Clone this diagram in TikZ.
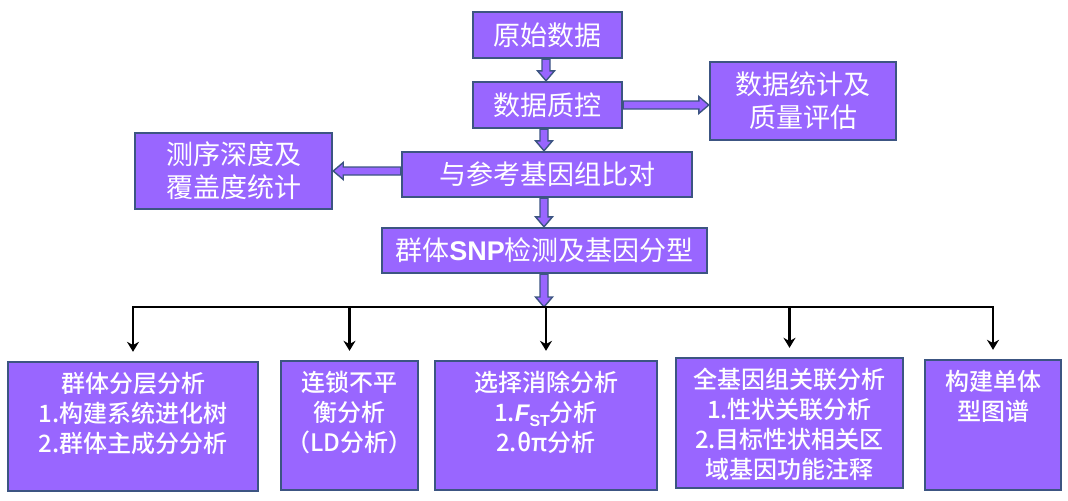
\documentclass[tikz,border=0pt]{standalone}
\usepackage{fontspec}
\setmainfont{Noto Sans CJK SC}
\newfontfamily\cjkmed{Noto Sans CJK SC Medium}
\newfontfamily\arialf{Liberation Sans}
\usetikzlibrary{calc,positioning,arrows.meta}
\definecolor{boxfill}{RGB}{153,102,255}
\definecolor{boxline}{RGB}{60,85,130}
% hollow block arrow from #1 to #2
\newcommand{\blockarr}[2]{%
  \path (#1) coordinate (p) (#2) coordinate (q);
  \coordinate (h) at ($(q)!5pt!(p)$);
  \filldraw[fill=boxfill, draw=boxline, line width=0.7pt]
    ($(p)!2pt!90:(q)$) -- ($(h)!2pt!90:(q)$) -- ($(h)!4.25pt!90:(q)$)
    -- (q) -- ($(h)!4.25pt!-90:(q)$) -- ($(h)!2pt!-90:(q)$)
    -- ($(p)!2pt!-90:(q)$) -- cycle;
}

\begin{document}
\begin{tikzpicture}[x=0.5pt, y=-0.5pt,
    box/.style={draw=boxline, fill=boxfill, line width=1.2pt, text=white,
      align=center, inner sep=0pt},
    topbox/.style={box, font=\fontsize{13.5}{16.5}\selectfont},
    subtxt/.style={text=white, align=center, inner sep=0pt,
      font=\fontsize{12}{15}\selectfont\cjkmed},
    bus/.style={line width=1.2pt, -{Stealth[length=5pt,width=6pt]}, shorten >=4.5pt}]
  \useasboundingbox (0,0) rectangle (1068,500);

  % main line
  \node[topbox, minimum width=74.5pt, minimum height=23pt] (raw) at (547.5,35) {原始数据};
  \node[topbox, minimum width=74.5pt, minimum height=23pt] (qc) at (547.5,105) {数据质控};
  \node[topbox, minimum width=93pt, minimum height=39pt] (stat) at (803,101) {数据统计及\\质量评估};
  \node[topbox, minimum width=145pt, minimum height=22.5pt] (align) at (547,174.5) {与参考基因组比对};
  \node[topbox, minimum width=98.5pt, minimum height=38pt] (depth) at (233.5,171) {测序深度及\\覆盖度统计};
  \node[topbox, minimum width=162.5pt, minimum height=22.5pt] (snp) at (544.5,250.5)
    {群体{\arialf\bfseries SNP}检测及基因分型};

  % analysis boxes
  \node[box, minimum width=125pt, minimum height=64.5pt] (A) at (133,426.5) {};
  \node[box, minimum width=68.5pt, minimum height=64.5pt] (B) at (349.5,425.5) {};
  \node[box, minimum width=111pt, minimum height=64.5pt] (C) at (546,425.5) {};
  \node[box, minimum width=113.5pt, minimum height=65pt] (D) at (789.5,423) {};
  \node[box, minimum width=68pt, minimum height=65pt] (E) at (993,425) {};

  \node[subtxt, below=5.5pt of A.north] (tA) {群体分层分析\\1.构建系统进化树\\2.群体主成分分析};
  \node[subtxt, below=5.5pt of B.north] (tB) {连锁不平\\衡分析\\（LD分析）};
  \node[subtxt, below=5.5pt of C.north] (tC)
    {选择消除分析\\1.{\arialf\bfseries\itshape F}\raisebox{-0.35ex}{\arialf\bfseries\footnotesize ST}分析\\2.θπ分析};
  \node[subtxt, below=5.5pt of D.north] (tD) {全基因组关联分析\\1.性状关联分析\\2.目标性状相关区\\域基因功能注释};
  \node[subtxt, below=5.5pt of E.north] (tE) {构建单体\\型图谱};

  % block arrows
  \blockarr{raw.south -| 546,0}{qc.north -| 546,0}
  \blockarr{qc.east}{stat.west |- qc.east}
  \blockarr{qc.south -| 544,0}{align.north -| 544,0}
  \blockarr{align.west |- depth.east}{depth.east}
  \blockarr{align.south -| 544,0}{snp.north -| 544,0}

  \coordinate (bus) at (544,307);
  \blockarr{snp.south -| bus}{bus}

  % branches
  \draw[line width=1.2pt, line cap=rect] (A.north |- bus) -- (E.north |- bus);
  \foreach \b in {A,B,C,D,E}
    \draw[bus] (\b.north |- bus) -- (\b.north);
\end{tikzpicture}
\end{document}
